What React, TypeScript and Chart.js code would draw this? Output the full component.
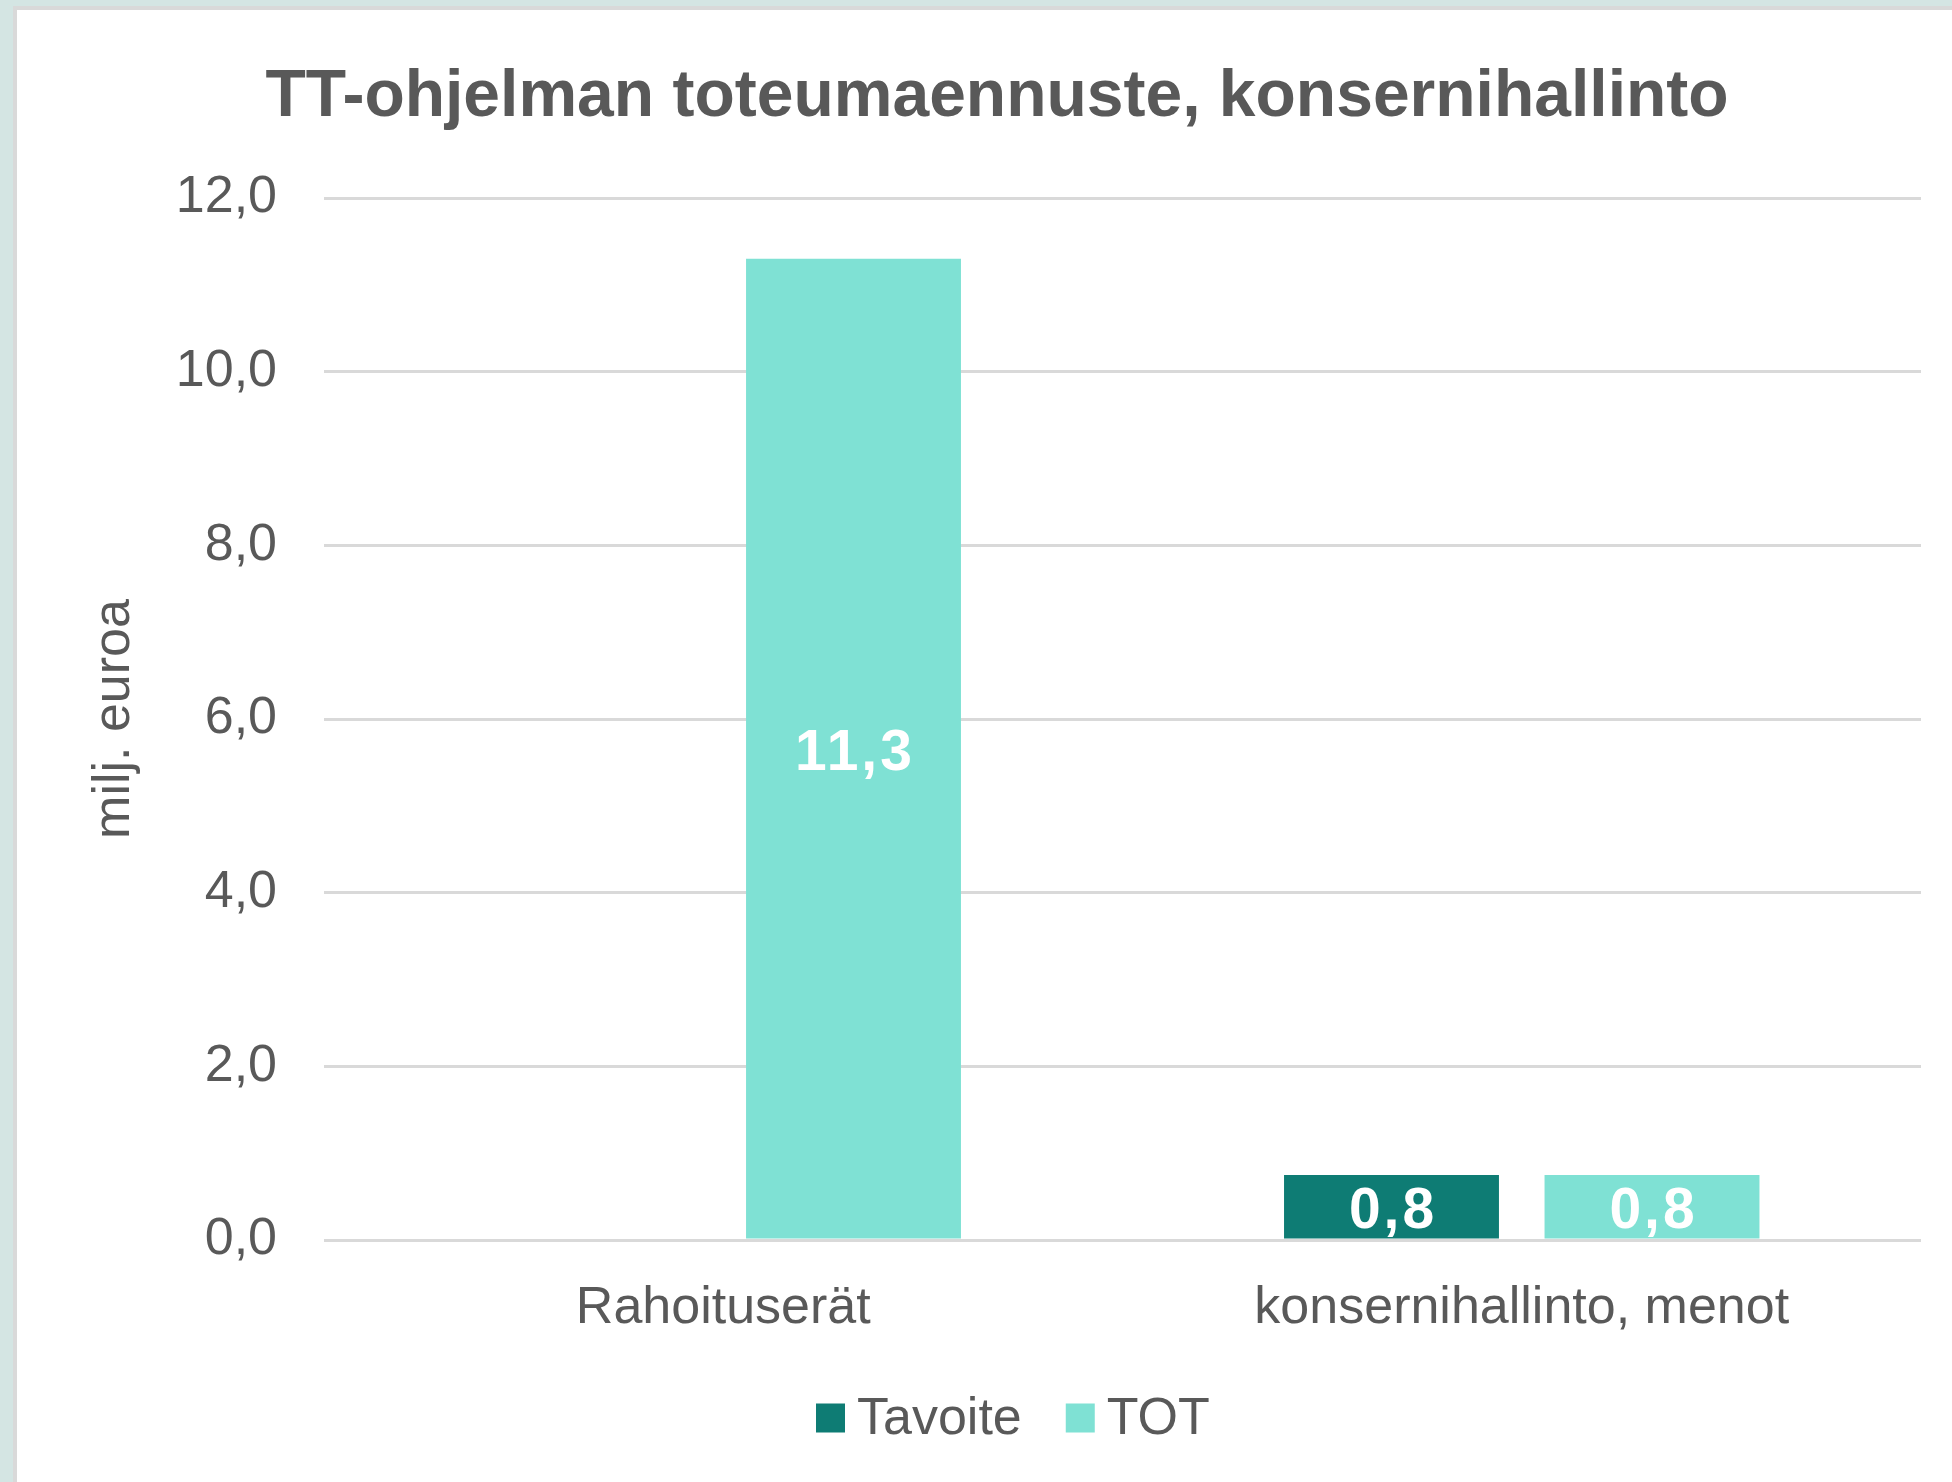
import React, { useEffect, useRef } from 'react';
import { Chart, registerables } from 'chart.js';

Chart.register(...registerables);

// ---- data ----
const categories = ['Rahoituserät', 'konsernihallinto, menot'];
const seriesNames = ['Tavoite', 'TOT'];
const tavoiteValues: (number | null)[] = [null, 0.75];
const totValues: (number | null)[] = [11.3, 0.75];
const yTickValues = [0, 2, 4, 6, 8, 10, 12];
const titleText = 'TT-ohjelman toteumaennuste, konsernihallinto';
const yAxisTitle = 'milj. euroa';

// ---- styles ----
const FONT = "'Liberation Sans', Arial, Helvetica, sans-serif";
const TEXT = '#595959';
const GRID = '#d9d9d9';
const DARK = '#0e7c74';
const LIGHT = '#7fe1d4';

const fmt = (v: number) => (Math.round(v * 10) / 10).toFixed(1).replace('.', ',');

const valueLabels = {
  id: 'valueLabels',
  afterDatasetsDraw(chart: any) {
    const ctx = chart.ctx;
    ctx.save();
    ctx.fillStyle = '#ffffff';
    ctx.font = `bold 57px ${FONT}`;
    try {
      (ctx as any).letterSpacing = '3px';
    } catch (e) {}
    ctx.textAlign = 'center';
    ctx.textBaseline = 'middle';
    chart.data.datasets.forEach((ds: any, i: number) => {
      const meta = chart.getDatasetMeta(i);
      meta.data.forEach((el: any, j: number) => {
        const v = ds.data[j];
        if (v == null) return;
        const { x, y, base } = el.getProps(['x', 'y', 'base'], true);
        ctx.fillText(fmt(v), x + 1.5, (y + base) / 2 + 6);
      });
    });
    ctx.restore();
  },
};

const customLegend = {
  id: 'customLegend',
  afterDraw(chart: any, _args: any, opts: any) {
    const ctx = chart.ctx;
    ctx.save();
    ctx.font = `${opts.fontSize}px ${FONT}`;
    ctx.textAlign = 'left';
    ctx.textBaseline = 'middle';
    let x = opts.startX;
    const y = opts.centerY;
    const box = opts.boxSize;
    chart.data.datasets.forEach((ds: any) => {
      ctx.fillStyle = ds.backgroundColor;
      ctx.fillRect(x, y - box / 2 - 2, box, box);
      x += box + opts.boxGap;
      ctx.fillStyle = TEXT;
      ctx.fillText(ds.label, x, y);
      x += ctx.measureText(ds.label).width + opts.itemGap;
    });
    ctx.restore();
  },
};

export default function App() {
  const canvasRef = useRef<HTMLCanvasElement | null>(null);

  useEffect(() => {
    document.body.style.margin = '0';
    document.body.style.overflow = 'hidden';
    const canvas = canvasRef.current;
    if (!canvas) return;
    Chart.defaults.font.family = FONT;
    const chart = new Chart(canvas, {
      type: 'bar',
      data: {
        labels: categories,
        datasets: [
          {
            label: seriesNames[0],
            data: tavoiteValues,
            backgroundColor: DARK,
            categoryPercentage: 0.6525,
            barPercentage: 0.825,
          },
          {
            label: seriesNames[1],
            data: totValues,
            backgroundColor: LIGHT,
            categoryPercentage: 0.6525,
            barPercentage: 0.825,
          },
        ],
      },
      options: {
        responsive: false,
        animation: false,
        devicePixelRatio: 1,
        layout: { padding: { left: 73, right: 31, top: 0, bottom: 142 } },
        plugins: {
          legend: { display: false },
          tooltip: { enabled: false },
          title: {
            display: true,
            text: titleText,
            color: TEXT,
            font: { size: 66, weight: 'bold', family: FONT },
            padding: { top: 58, bottom: 60.8 },
          },
          customLegend: {
            startX: 816,
            centerY: 1420,
            boxSize: 29,
            boxGap: 12,
            itemGap: 44,
            fontSize: 52,
          },
        } as any,
        scales: {
          x: {
            grid: { display: false, drawTicks: false },
            border: { display: false },
            ticks: { color: TEXT, font: { size: 52 }, padding: 37 },
            afterFit: (s: any) => {
              s.height = 100;
            },
          },
          y: {
            min: 0,
            max: 12,
            afterBuildTicks: (s: any) => {
              s.ticks = yTickValues.map((v) => ({ value: v }));
            },
            ticks: {
              color: TEXT,
              font: { size: 52 },
              padding: 47,
              callback: (v: any) => fmt(Number(v)),
            },
            grid: { color: GRID, lineWidth: 3, drawTicks: false },
            border: { display: false },
            title: {
              display: true,
              text: yAxisTitle,
              color: TEXT,
              font: { size: 52 },
              padding: { top: 10, bottom: 0 },
            },
            afterFit: (s: any) => {
              s.width = 251;
            },
          },
        },
      },
      plugins: [valueLabels, customLegend],
    });
    return () => chart.destroy();
  }, []);

  return (
    <div style={{ position: 'relative', width: 1952, height: 1482, background: '#d4e5e3', overflow: 'hidden' }}>
      <div
        style={{
          position: 'absolute',
          left: 13,
          top: 6,
          right: 0,
          bottom: 0,
          background: '#ffffff',
          borderLeft: `4px solid ${GRID}`,
          borderTop: `4px solid ${GRID}`,
        }}
      />
      <canvas
        ref={canvasRef}
        width={1952}
        height={1482}
        style={{ position: 'absolute', left: 0, top: 0, width: 1952, height: 1482 }}
      />
    </div>
  );
}
